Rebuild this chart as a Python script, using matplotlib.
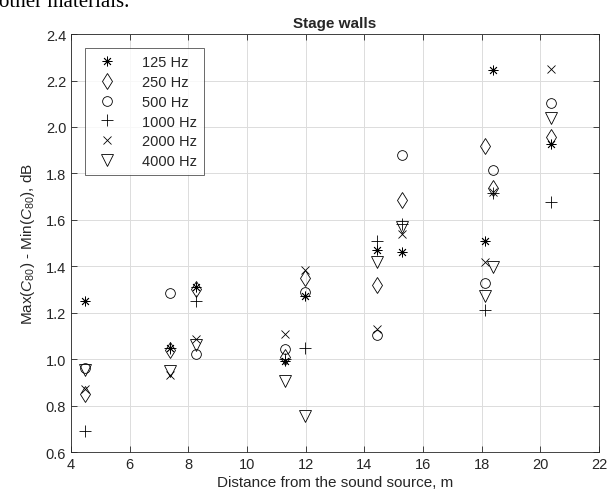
import numpy as np
import matplotlib
matplotlib.use("Agg")
import matplotlib.pyplot as plt

plt.rcParams['font.family'] = ['Liberation Sans', 'DejaVu Sans']
plt.rcParams['mathtext.fontset'] = 'custom'
plt.rcParams['mathtext.rm'] = 'Liberation Sans'
plt.rcParams['mathtext.it'] = 'Liberation Sans:italic'

# distance of each receiver position, m
dist = [4.48, 7.38, 8.26, 11.3, 11.98, 14.43, 15.29, 18.13, 18.4, 20.37]

# Max(C80) - Min(C80) per octave band, dB
c125 = [1.25, 1.05, 1.31, 0.99, 1.27, 1.47, 1.46, 1.51, 2.245, 1.925]
c250 = [0.85, 1.04, 1.30, 1.01, 1.35, 1.32, 1.685, 1.92, 1.735, 1.955]
c500 = [0.96, 1.285, 1.02, 1.045, 1.29, 1.105, 1.88, 1.33, 1.815, 2.105]
c1000 = [0.69, 1.05, 1.25, 1.0, 1.05, 1.51, 1.58, 1.21, 1.715, 1.675]
c2000 = [0.87, 0.93, 1.085, 1.11, 1.385, 1.13, 1.54, 1.42, 1.72, 2.25]
c4000 = [0.955, 0.95, 1.06, 0.905, 0.755, 1.42, 1.57, 1.27, 1.395, 2.04]

labels = ['125 Hz', '250 Hz', '500 Hz', '1000 Hz', '2000 Hz', '4000 Hz']
series = [c125, c250, c500, c1000, c2000, c4000]
markers = [(8, 2, 0), 'd', 'o', '+', 'x', 'v']
sizes = [7, 8, 7, 8, 6, 8]

txt = '#262626'
fig = plt.figure(figsize=(6.09, 5.02), dpi=100)
ax = fig.add_axes([0.1166, 0.0976, 0.867, 0.8325])

for ys, lab, m, s in zip(series, labels, markers, sizes):
    ax.plot(dist, ys, linestyle='none', marker=m, markersize=s,
            markerfacecolor='none', markeredgecolor='k', markeredgewidth=0.6, label=lab)

ax.set_xlim(4, 22)
ax.set_ylim(0.6, 2.4)
ax.set_xticks(np.arange(4, 23, 2))
ax.set_yticks(np.arange(0.6, 2.41, 0.2))
ax.yaxis.set_major_formatter(matplotlib.ticker.FormatStrFormatter('%.1f'))
ax.grid(True, color='#dcdcdc', linewidth=0.7)
ax.set_axisbelow(True)
ax.tick_params(direction='in', top=True, right=True, labelsize=10.5, colors=txt,
               length=4, width=0.6)
for sp in ax.spines.values():
    sp.set_color('#262626')
    sp.set_linewidth(0.6)

ax.set_title('Stage walls', fontsize=11, fontweight='bold', color=txt, pad=5)
ax.set_xlabel('Distance from the sound source, m', fontsize=11, color=txt, labelpad=3)
ax.set_ylabel('Max($C_{80}$) - Min($C_{80}$), dB', fontsize=11, color=txt, labelpad=6)

leg = ax.legend(loc='upper left', fontsize=10.5, frameon=True, fancybox=False,
                edgecolor='#262626', borderpad=0.45, handletextpad=1.3,
                labelspacing=0.4, handlelength=2.2, bbox_to_anchor=(0.012, 0.983))
leg.get_frame().set_linewidth(0.6)
for t in leg.get_texts():
    t.set_color(txt)

fig.text(-0.002, 0.986, 'other materials.', family='Liberation Serif', fontsize=15,
         va='baseline', ha='left')

fig.savefig('out.png', dpi=100)
